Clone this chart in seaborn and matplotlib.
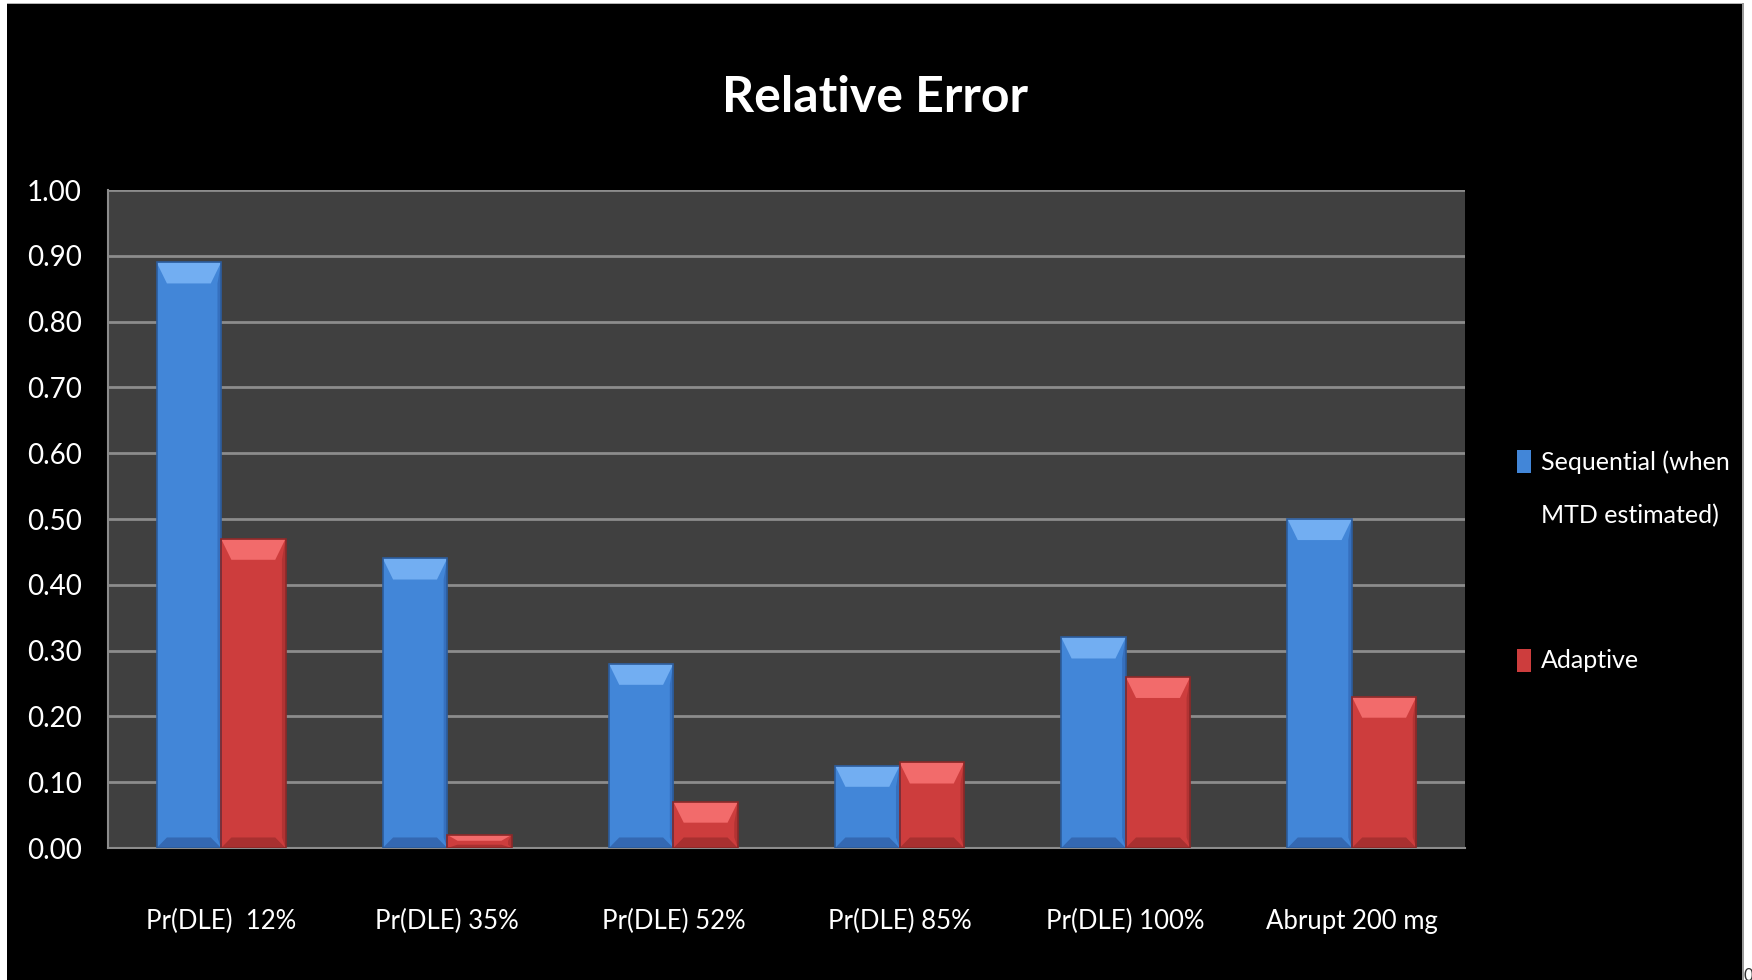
import numpy as np
import pandas as pd
import matplotlib
matplotlib.use("Agg")
import matplotlib.pyplot as plt
from matplotlib.patches import Rectangle, Polygon
import seaborn as sns

# ---- data ----
categories = ["Pr(DLE)  12%", "Pr(DLE) 35%", "Pr(DLE) 52%",
              "Pr(DLE) 85%", "Pr(DLE) 100%", "Abrupt 200 mg"]
sequential = [0.89, 0.44, 0.28, 0.125, 0.32, 0.50]
adaptive = [0.47, 0.02, 0.07, 0.13, 0.26, 0.23]
series_names = ["Sequential (when\nMTD estimated)", "Adaptive"]
y_ticks = [0.00, 0.10, 0.20, 0.30, 0.40, 0.50, 0.60, 0.70, 0.80, 0.90, 1.00]
title = "Relative Error"

df = pd.DataFrame({
    "category": categories * 2,
    "series": [series_names[0]] * len(categories) + [series_names[1]] * len(categories),
    "value": sequential + adaptive,
})

# ---- style ----
sns.set_theme(style="dark")
plt.rcParams["font.family"] = ["Lato", "DejaVu Sans"]

W, H = 1752, 980
fig = plt.figure(figsize=(W / 100, H / 100), dpi=100, facecolor="black")

BLUE, RED = "#4286D8", "#CD3D3D"
shades = {
    BLUE: dict(top="#72AEF2", side="#3670BE", bottom="#3468B2", edge="#2C5C9C"),
    RED: dict(top="#F26B6B", side="#B23333", bottom="#A83030", edge="#8A2828"),
}

ax = fig.add_axes([108 / W, 1 - 848 / H, 1357 / W, 658 / H])
ax.set_facecolor("#404040")

sns.barplot(data=df, x="category", y="value", hue="series",
            palette=[BLUE, RED], width=0.57, gap=0, saturation=1,
            order=categories, hue_order=series_names, ax=ax,
            edgecolor="none", linewidth=0, zorder=3)

# bevelled look on each bar, built from the bar geometry
for container, base in zip(ax.containers, [BLUE, RED]):
    sh = shades[base]
    for p in container.patches:
        x0, w, h = p.get_x(), p.get_width(), p.get_height()
        ix = w * 0.16
        bt = min(0.032, h * 0.45)
        bb = min(0.016, h * 0.25)
        ax.add_patch(Polygon([(x0 + w, 0), (x0 + w, h), (x0 + w - ix * 0.35, h - bt),
                              (x0 + w - ix * 0.35, bb)], closed=True,
                             facecolor=sh["side"], edgecolor="none", zorder=4))
        ax.add_patch(Polygon([(x0, 0), (x0 + w, 0), (x0 + w - ix, bb), (x0 + ix, bb)],
                             closed=True, facecolor=sh["bottom"], edgecolor="none", zorder=4))
        ax.add_patch(Polygon([(x0, h), (x0 + w, h), (x0 + w - ix, h - bt), (x0 + ix, h - bt)],
                             closed=True, facecolor=sh["top"], edgecolor="none", zorder=4))
        ax.add_patch(Rectangle((x0, 0), w, h, facecolor="none",
                               edgecolor=sh["edge"], linewidth=1.2, zorder=5))

ax.set_ylim(0, 1.0)
ax.set_yticks(y_ticks)
ax.set_yticklabels([f"{v:.2f}" for v in y_ticks])
ax.set_xlabel("")
ax.set_ylabel("")
ax.set_axisbelow(True)
ax.yaxis.grid(True, color="#8c8c8c", linewidth=2)
ax.xaxis.grid(False)
for side in ["top", "right"]:
    ax.spines[side].set_visible(False)
for side in ["left", "bottom"]:
    ax.spines[side].set_visible(True)
    ax.spines[side].set_color("#8c8c8c")
    ax.spines[side].set_linewidth(1.5)
ax.tick_params(axis="y", length=0, pad=19, labelsize=20, labelcolor="white")
ax.tick_params(axis="x", length=0, pad=44, labelsize=18.5, labelcolor="white")

# legend
sns.move_legend(ax, "upper left", bbox_to_anchor=(1517 / W, 1 - 450 / H),
                bbox_transform=fig.transFigure, frameon=False, title=None,
                fontsize=18, labelcolor="white", handlelength=0.55,
                handleheight=1.05, handletextpad=0.4, labelspacing=4.9,
                borderpad=0, borderaxespad=0)
leg = ax.get_legend()
for t in leg.get_texts():
    t.set_linespacing(2.55)
for hnd, base in zip(leg.legend_handles, [BLUE, RED]):
    hnd.set_edgecolor(shades[base]["edge"])
# keep each swatch level with the first line of its label
for column in leg._legend_handle_box.get_children():
    for row in column.get_children():
        row.align = "top"

# title
fig.text(875 / W, 1 - 112 / H, title, ha="center", va="baseline",
         fontsize=36, fontweight="bold", color="white")

# page edges
fig.patches.append(Rectangle((0, 0), 7 / W, 1, transform=fig.transFigure,
                             facecolor="white", edgecolor="none", zorder=10))
fig.patches.append(Rectangle((1743 / W, 0), 9 / W, 1, transform=fig.transFigure,
                             facecolor="white", edgecolor="none", zorder=10))
fig.patches.append(Rectangle((0, 1 - 3 / H), 1, 3 / H, transform=fig.transFigure,
                             facecolor="white", edgecolor="none", zorder=10))
fig.patches.append(Rectangle((7 / W, 1 - 4.5 / H), 1736 / W, 1.5 / H, transform=fig.transFigure,
                             facecolor="#b4b4b4", edgecolor="none", zorder=11))
fig.patches.append(Rectangle((1742 / W, 0), 1.5 / W, 1 - 3 / H, transform=fig.transFigure,
                             facecolor="#9a9a9a", edgecolor="none", zorder=11))
fig.text(1744 / W, -4 / H, "0", ha="left", va="bottom", fontsize=12,
         color="#333333", zorder=12)

fig.savefig("out.png", dpi=100, facecolor="black")
